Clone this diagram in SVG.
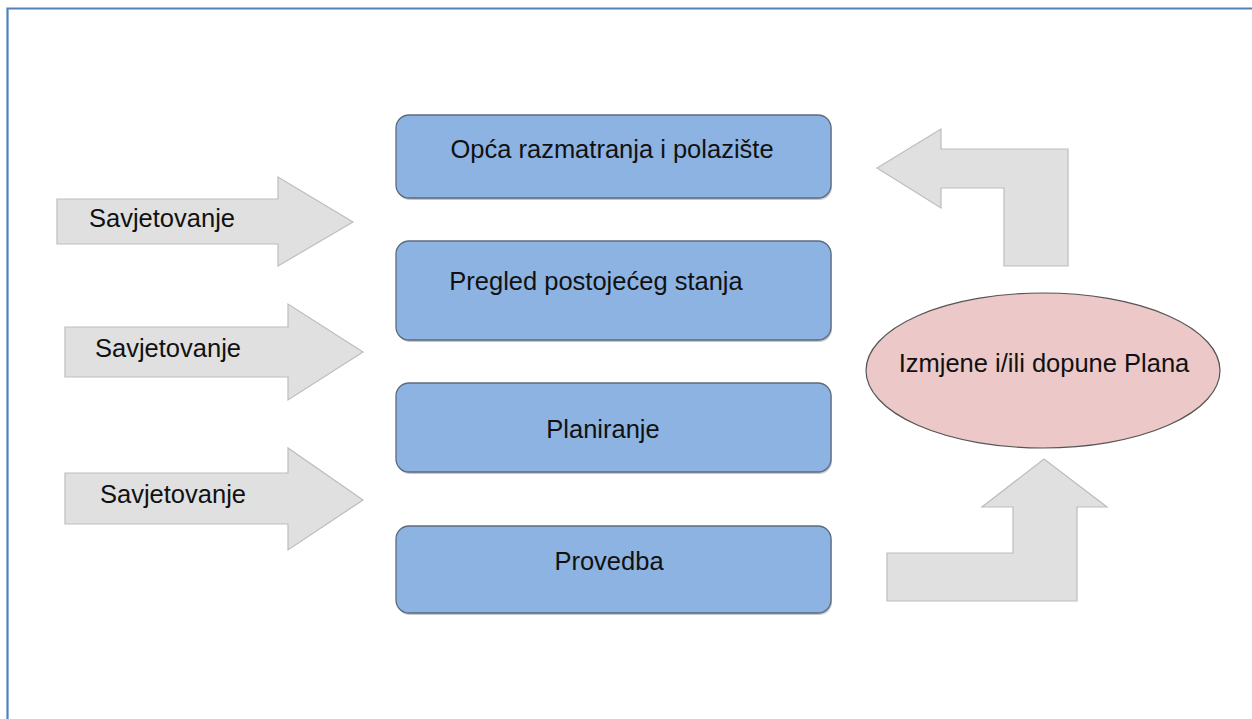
<svg xmlns="http://www.w3.org/2000/svg" width="1252" height="719" viewBox="0 0 1252 719">
<style>
.box{fill:#8db3e2;stroke:#5d6b7e;stroke-width:1.3}
.shadow{fill:#9aa3ad;opacity:0.6}
.arrow{fill:#e0e0e0;stroke:#bdbdbd;stroke-width:1.2}
.ell{fill:#ecc8c8;stroke:#555;stroke-width:1.2}
.t{font-family:"Liberation Sans",Arial,sans-serif;font-size:25.5px;fill:#111;text-anchor:middle}
</style>
<rect width="1252" height="719" fill="#fff"/>
<path d="M7.5,719 V8.5 H1252" fill="none" stroke="#4f81bd" stroke-width="2.2"/>
<g id="connectors">
<g id="arrow-left-1"><polygon class="arrow" points="57,199 278,199 278,177 353,222 278,266 278,244 57,244"/><text class="t" x="162" y="227">Savjetovanje</text></g>
<g id="arrow-left-2"><polygon class="arrow" points="65,327 288,327 288,304 363,352 288,400 288,377 65,377"/><text class="t" x="168" y="357">Savjetovanje</text></g>
<g id="arrow-left-3"><polygon class="arrow" points="65,473 288,473 288,448 363,500 288,550 288,524 65,524"/><text class="t" x="173" y="503">Savjetovanje</text></g>
<polygon id="arrow-back" class="arrow" points="877,168 941,129 941,149 1068,149 1068,266 1004,266 1004,188 941,188 941,208"/>
<polygon id="arrow-up" class="arrow" points="1044,459 1107,507 1077,507 1077,601 887,601 887,553 1013,553 1013,507 982,507"/>
</g>
<g id="node-opca"><rect class="shadow" x="397" y="117" width="435" height="83" rx="13"/><rect class="box" x="396" y="115" width="435" height="83" rx="13"/><text class="t" x="612" y="158">Opća razmatranja i polazište</text></g>
<g id="node-pregled"><rect class="shadow" x="397" y="243" width="435" height="99" rx="13"/><rect class="box" x="396" y="241" width="435" height="99" rx="13"/><text class="t" x="596" y="290">Pregled postojećeg stanja</text></g>
<g id="node-planiranje"><rect class="shadow" x="397" y="385" width="435" height="89" rx="13"/><rect class="box" x="396" y="383" width="435" height="89" rx="13"/><text class="t" x="603" y="438">Planiranje</text></g>
<g id="node-provedba"><rect class="shadow" x="397" y="528" width="435" height="87" rx="13"/><rect class="box" x="396" y="526" width="435" height="87" rx="13"/><text class="t" x="609" y="570">Provedba</text></g>
<g id="node-izmjene"><ellipse class="ell" cx="1043" cy="370.5" rx="177" ry="77.5"/><text class="t" x="1044" y="372">Izmjene i/ili dopune Plana</text></g>
</svg>
